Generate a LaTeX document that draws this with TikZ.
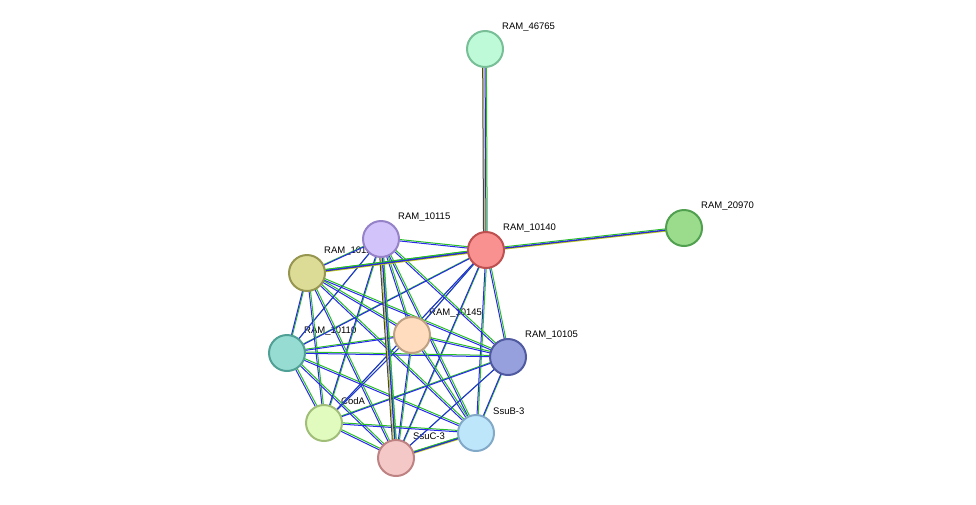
\documentclass[tikz,border=0pt]{standalone}
\usepackage{fontspec}
\setmainfont{Liberation Sans}
\usetikzlibrary{positioning}
\definecolor{egreen}{RGB}{40,190,40}
\definecolor{eblue}{RGB}{40,40,235}
\definecolor{eyellow}{RGB}{195,205,40}
\definecolor{edark}{RGB}{70,70,70}
\tikzset{
	prot/.style={circle, minimum size=36pt, inner sep=0pt, line width=2pt},
	lbl/.style={anchor=west, font=\fontsize{9.5}{11}\selectfont, inner sep=1pt},
	egr/.style={egreen, line width=1pt, transform canvas={xshift=1.3pt,yshift=1.3pt}},
	ebl/.style={eblue, line width=1pt},
	eye/.style={eyellow, line width=1pt, transform canvas={xshift=-1.3pt,yshift=-1.3pt}},
	edk/.style={edark, line width=1pt, transform canvas={xshift=-2.4pt,yshift=-0.6pt}}}

\begin{document}
\begin{tikzpicture}[x=1pt,y=-1pt]
	\useasboundingbox (0,0) rectangle (976,504);

	% protein centres
	\coordinate (n46765) at (485,49);
	\coordinate (n20970) at (684,228);
	\coordinate (n10140) at (486,250);
	\coordinate (n10115) at (381,239);
	\coordinate (n10120) at (307,273);
	\coordinate (n10110) at (287,353);
	\coordinate (n10145) at (412,335);
	\coordinate (n10105) at (508,357);
	\coordinate (ncoda) at (324,423);
	\coordinate (nssub) at (476,433);
	\coordinate (nssuc) at (396,458);

	% labels (under the edges)
	\foreach \n/\t in {n46765/RAM\_46765, n20970/RAM\_20970, n10140/RAM\_10140, n10115/RAM\_10115, n10120/RAM\_10120,
		n10110/RAM\_10110, n10145/RAM\_10145, n10105/RAM\_10105, ncoda/CodA, nssub/SsuB-3, nssuc/SsuC-3}{
		\node[lbl] at ([xshift=16pt,yshift=22pt]\n) {\t};
	}

	% associations
	\foreach \a/\b in {n10140/n10115, n10140/n10120, n10140/n10110, n10140/n10145, n10140/n10105, n10140/ncoda, n10140/nssub, n10140/nssuc,
		n10115/n10120, n10115/n10110, n10115/n10145, n10115/n10105, n10115/ncoda, n10115/nssub, n10115/nssuc,
		n10120/n10110, n10120/n10145, n10120/n10105, n10120/ncoda, n10120/nssub, n10120/nssuc,
		n10110/n10145, n10110/n10105, n10110/ncoda, n10110/nssub, n10110/nssuc,
		n10145/n10105, n10145/ncoda, n10145/nssub, n10145/nssuc,
		n10105/ncoda, n10105/nssub, n10105/nssuc,
		ncoda/nssub, ncoda/nssuc, nssub/nssuc}{
		\draw[egr] (\a) -- (\b);
		\draw[ebl] (\a) -- (\b);
	}
	\foreach \a/\b in {n10140/n46765, n10140/n20970, n10115/nssuc, n10140/n10120, nssub/nssuc}{
		\draw[eye] (\a) -- (\b);
		\draw[edk] (\a) -- (\b);
		\draw[egr] (\a) -- (\b);
		\draw[ebl] (\a) -- (\b);
	}

	% proteins
	\node[prot, draw={rgb,255:red,120;green,190;blue,150}, fill={rgb,255:red,190;green,250;blue,215}] (p46765) at (n46765) {};
	\node[prot, draw={rgb,255:red,80;green,160;blue,80}, fill={rgb,255:red,155;green,220;blue,140}] (p20970) at (n20970) {};
	\node[prot, draw={rgb,255:red,190;green,80;blue,80}, fill={rgb,255:red,250;green,145;blue,145}] (p10140) at (n10140) {};
	\node[prot, draw={rgb,255:red,150;green,130;blue,200}, fill={rgb,255:red,210;green,195;blue,250}] (p10115) at (n10115) {};
	\node[prot, draw={rgb,255:red,150;green,150;blue,80}, fill={rgb,255:red,220;green,220;blue,150}] (p10120) at (n10120) {};
	\node[prot, draw={rgb,255:red,80;green,160;blue,150}, fill={rgb,255:red,150;green,220;blue,210}] (p10110) at (n10110) {};
	\node[prot, draw={rgb,255:red,190;green,160;blue,130}, fill={rgb,255:red,255;green,220;blue,190}] (p10145) at (n10145) {};
	\node[prot, draw={rgb,255:red,80;green,90;blue,160}, fill={rgb,255:red,150;green,160;blue,220}] (p10105) at (n10105) {};
	\node[prot, draw={rgb,255:red,160;green,190;blue,120}, fill={rgb,255:red,225;green,250;blue,190}] (pcoda) at (ncoda) {};
	\node[prot, draw={rgb,255:red,130;green,170;blue,200}, fill={rgb,255:red,190;green,230;blue,250}] (pssub) at (nssub) {};
	\node[prot, draw={rgb,255:red,190;green,130;blue,130}, fill={rgb,255:red,245;green,200;blue,200}] (pssuc) at (nssuc) {};
\end{tikzpicture}
\end{document}
